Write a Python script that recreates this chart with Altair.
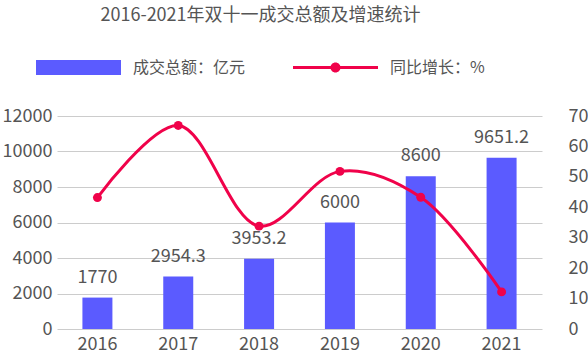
import altair as alt
import pandas as pd

years = ["2016", "2017", "2018", "2019", "2020", "2021"]
amounts = [1770, 2954.3, 3953.2, 6000, 8600, 9651.2]
growth = [43.2, 66.9, 33.8, 51.8, 43.3, 12.2]
left_ticks = [0, 2000, 4000, 6000, 8000, 10000, 12000]
right_ticks = [0, 10, 20, 30, 40, 50, 60, 70]

BAR = "#5b5bff"
LINE = "#f0024a"
TXT = "#555555"
FONT = "Noto Sans CJK SC"
FS = 18

df = pd.DataFrame({"year": years, "amount": amounts, "growth": growth})

x = alt.X("year:N", title=None,
          scale=alt.Scale(paddingInner=0, paddingOuter=0),
          axis=alt.Axis(labelAngle=0, ticks=False, domain=False, labelPadding=6,
                        labelFontSize=FS, labelColor=TXT, labelFont=FONT))

y_left = alt.Y("amount:Q", title=None,
               scale=alt.Scale(domain=[0, 12000]),
               axis=alt.Axis(values=left_ticks, grid=True, gridColor="#cccccc",
                             domain=False, ticks=False, labelPadding=5, format="d",
                             labelOverlap=False,
                             labelFontSize=FS, labelColor=TXT, labelFont=FONT))

y_right = alt.Y("growth:Q", title=None,
                scale=alt.Scale(domain=[0, 70]),
                axis=alt.Axis(orient="right", values=right_ticks, grid=False,
                              domain=False, ticks=False, labelPadding=26,
                              labelOverlap=False, format="d",
                              labelFontSize=FS, labelColor=TXT, labelFont=FONT))

bar_path = "M-1,-0.176H1V0.176H-1Z"
r = 0.118
line_path = ("M-1,-0.035H1V0.035H-1Z"
             f"M{r},0A{r},{r},0,1,1,-{r},0A{r},{r},0,1,1,{r},0Z")

bars = alt.Chart(df).mark_bar(width=30).encode(
    x=x,
    y=y_left,
    fill=alt.Fill("k:N", title=None,
                  scale=alt.Scale(domain=["成交总额：亿元"], range=[BAR]),
                  legend=alt.Legend(orient="none", legendX=-21, legendY=-91,
                                    symbolType=bar_path, symbolSize=7225,
                                    symbolStrokeWidth=0, labelOffset=12,
                                    labelFontSize=16, labelColor=TXT, labelFont=FONT,
                                    padding=0)),
).transform_calculate(k="'成交总额：亿元'")

labels = alt.Chart(df).mark_text(dy=-15, baseline="alphabetic", fontSize=FS,
                                 color=TXT, font=FONT).encode(
    x=x,
    y=y_left,
    text=alt.Text("amount:Q", format="~f"),
)

line = alt.Chart(df).mark_line(color=LINE, strokeWidth=3,
                               interpolate="catmull-rom").encode(
    x=x,
    y=y_right,
)

points = alt.Chart(df).mark_circle(size=80, opacity=1).encode(
    x=x,
    y=y_right,
    color=alt.Color("k:N", title=None,
                    scale=alt.Scale(domain=["同比增长：%"], range=[LINE]),
                    legend=alt.Legend(orient="none", legendX=236, legendY=-91,
                                      symbolType=line_path, symbolSize=7225,
                                      symbolStrokeWidth=0, symbolOpacity=1,
                                      labelOffset=12,
                                      labelFontSize=16, labelColor=TXT, labelFont=FONT,
                                      padding=0)),
).transform_calculate(k="'同比增长：%'")

left = alt.layer(bars, labels)
right = alt.layer(line, points)

chart = alt.layer(left, right).resolve_scale(y="independent").properties(
    width=485, height=213,
    autosize=alt.AutoSizeParams(type="none"),
    padding={"left": 57, "top": 116, "right": 46, "bottom": 25},
    title=alt.TitleParams("2016-2021年双十一成交总额及增速统计", fontSize=18,
                          font=FONT, color=TXT, fontWeight="normal",
                          anchor="middle", offset=0, dx=-39),
).configure_view(stroke=None)

chart.save("out.html", embed_options={"renderer": "svg", "actions": False})
